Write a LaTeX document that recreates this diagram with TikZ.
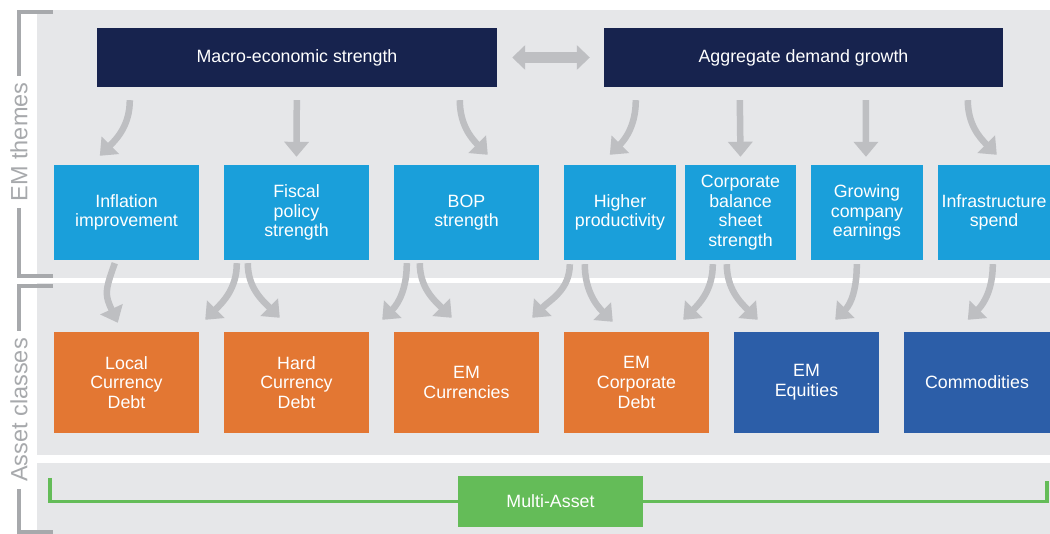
\documentclass[tikz,border=0pt]{standalone}
\usepackage{fontspec}
\setmainfont{Liberation Sans}
\usetikzlibrary{arrows.meta,calc}
\definecolor{panel}{HTML}{E6E7E9}
\definecolor{navy}{HTML}{17234E}
\definecolor{ltblue}{HTML}{1A9FDA}
\definecolor{orng}{HTML}{E37733}
\definecolor{dkblue}{HTML}{2C5EA8}
\definecolor{grn}{HTML}{64BC58}
\definecolor{arrgray}{HTML}{BEBFC2}
\definecolor{brkgray}{HTML}{A7A9AC}
\begin{document}
\begin{tikzpicture}[x=1pt,y=1pt,
	box/.style={text=white,align=center,inner sep=0pt,font=\fontsize{17.8}{19.6}\selectfont},
	top/.style={box,fill=navy,minimum width=400pt,minimum height=59pt},
	theme/.style={box,fill=ltblue,minimum height=95pt},
	asset/.style={box,fill=orng,minimum width=145pt,minimum height=101pt},
	garr/.style={draw=arrgray,line width=6.5pt,-{Triangle[width=24pt,length=15pt]}},
	brk/.style={draw=brkgray,line width=3.5pt},
	lbl/.style={rotate=90,fill=white,text=brkgray,inner xsep=7pt,inner ysep=3pt,font=\fontsize{23.5}{26}\selectfont},
	mln/.style={draw=grn,line width=3.5pt}]
	\useasboundingbox[fill=white] (0,0) rectangle (1050,-534);
	% panels
	\fill[panel] (37,-10) rectangle (1050,-278);
	\fill[panel] (37,-283) rectangle (1050,-455);
	\fill[panel] (37,-463) rectangle (1050,-534);
	% brackets and labels
	\draw[brk] (53,-12)--(19,-12)--(19,-276)--(53,-276);
	\node[lbl] (emth) at (19,-142) {EM themes};
	\draw[brk] (53,-286)--(19,-286)--(19,-532)--(53,-532);
	\node[lbl] (ascl) at (19,-410) {Asset classes};
	% drivers
	\node[top] (macro) at (297,-57.5) {Macro-economic strength};
	\node[top,minimum width=399pt] (agg) at (803.5,-57.5) {Aggregate demand growth};
	\draw[arrgray,line width=11pt,{Triangle[width=24pt,length=13pt]}-{Triangle[width=24pt,length=13pt]}] ($(macro.east)+(15,0)$)--($(agg.west)+(-14,0)$);
	% themes
	\node[theme,minimum width=145pt] (infl) at (126.5,-212.5) {Inflation\\improvement};
	\node[theme,minimum width=145pt] (fisc) at (296.5,-212.5) {Fiscal\\policy\\strength};
	\node[theme,minimum width=145pt] (bop) at (466.5,-212.5) {BOP\\strength};
	\node[theme,minimum width=112pt] (prod) at (620,-212.5) {Higher\\productivity};
	\node[theme,minimum width=111pt] (corp) at (740.5,-212.5) {Corporate\\balance\\sheet\\strength};
	\node[theme,minimum width=112pt] (earn) at (867,-212.5) {Growing\\company\\earnings};
	\node[theme,minimum width=112pt] (infra) at (994,-212.5) {Infrastructure\\spend};
	% asset classes
	\node[asset] (lcd) at (126.5,-382.5) {Local\\Currency\\Debt};
	\node[asset] (hcd) at (296.5,-382.5) {Hard\\Currency\\Debt};
	\node[asset] (emc) at (466.5,-382.5) {EM\\Currencies};
	\node[asset] (emcd) at (636.5,-382.5) {EM\\Corporate\\Debt};
	\node[asset,fill=dkblue] (emeq) at (806.5,-382.5) {EM\\Equities};
	\node[asset,fill=dkblue,minimum width=146pt] (comm) at (977,-382.5) {Commodities};
	% multi-asset
	\coordinate (ml) at (50,-478);
	\coordinate (mr) at (1047,-481);
	\draw[mln] (ml) |- (550,-501.5) -| (mr);
	\node[box,fill=grn,minimum width=185pt,minimum height=51pt] (multi) at (550.5,-501.5) {Multi-Asset};
	% drivers -> themes
	\draw[garr] ($(macro.south west)+(33,-13)$) to[out=-90,in=45] ($(infl.north west)+(46,9)$);
	\draw[garr] ($(macro.south west)+(200,-13)$) -- ($(fisc.north)+(0,8)$);
	\draw[garr] ($(macro.south west)+(363,-13)$) to[out=-90,in=135] ($(bop.north west)+(94,10)$);
	\draw[garr] ($(agg.south west)+(32,-13)$) to[out=-90,in=45] ($(prod.north west)+(46,10)$);
	\draw[garr] ($(agg.south west)+(136,-13)$) -- ($(corp.north)+(0,8)$);
	\draw[garr] ($(agg.south west)+(262,-13)$) -- ($(earn.north)+(-1,8)$);
	\draw[garr] ($(agg.south west)+(364,-13)$) to[out=-90,in=135] ($(infra.north west)+(59,10)$);
	% themes -> asset classes
	\draw[garr] ($(infl.south west)+(61,-3)$) to[out=-110,in=115,looseness=1.3] ($(lcd.north west)+(64,9)$);
	\draw[garr] ($(fisc.south west)+(13,-3)$) to[out=-90,in=45] ($(lcd.north east)+(6,12)$);
	\draw[garr] ($(fisc.south west)+(24,-3)$) to[out=-90,in=135] ($(hcd.north west)+(56,14)$);
	\draw[garr] ($(bop.south west)+(13,-3)$) to[out=-90,in=45] ($(hcd.north east)+(13,12)$);
	\draw[garr] ($(bop.south west)+(26,-3)$) to[out=-90,in=135] ($(emc.north west)+(58,14)$);
	\draw[garr] ($(prod.south west)+(6,-4)$) to[out=-90,in=45] ($(emc.north east)+(-7,14)$);
	\draw[garr] ($(prod.south west)+(21,-4)$) to[out=-90,in=135] ($(emcd.north west)+(49,10)$);
	\draw[garr] ($(corp.south west)+(28,-4)$) to[out=-90,in=45] ($(emcd.north east)+(-26,12)$);
	\draw[garr] ($(corp.south west)+(42,-4)$) to[out=-90,in=135] ($(emeq.north west)+(24,12)$);
	\draw[garr] ($(earn.south west)+(46,-4)$) to[out=-90,in=45] ($(emeq.north east)+(-44,12)$);
	\draw[garr] ($(infra.south west)+(55,-4)$) to[out=-90,in=45] ($(comm.north west)+(64,12)$);
\end{tikzpicture}
\end{document}
